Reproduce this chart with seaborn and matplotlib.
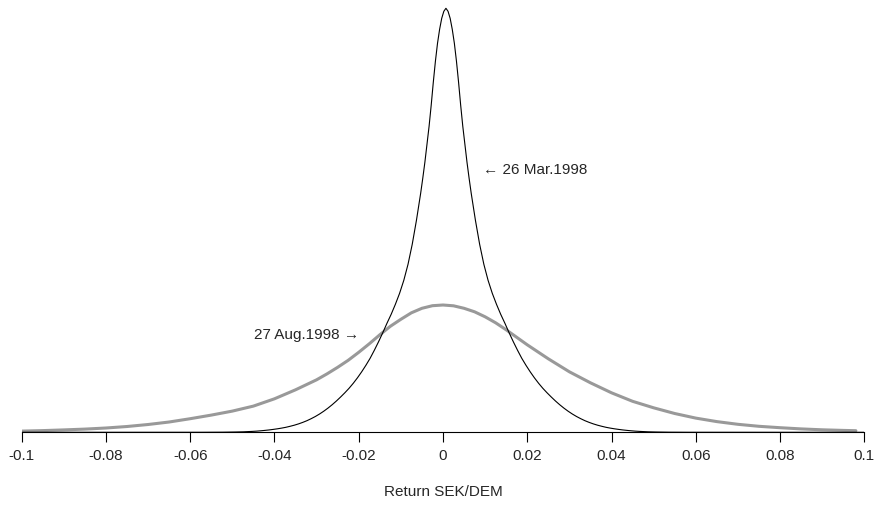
import pandas as pd
import matplotlib
matplotlib.use('Agg')
import matplotlib.pyplot as plt
import seaborn as sns

# Density curves; x in per-mille of return,
# heights in arbitrary units (the chart has no y axis)
mar_x_pm = [-100, -57.3, -52.3, -49.3, -47.3, -46.3, -45.3, -44.3, -43.3, -42.3,
            -41.3, -40.3, -39.3, -38.3, -37.3, -36.3, -35.3, -34.3, -33.3, -32.3,
            -31.3, -30.3, -29.3, -28.3, -27.3, -26.3, -25.3, -24.3, -23.3, -22.3,
            -21.3, -20.3, -19.3, -18.3, -17.3, -16.3, -15.3, -14.3, -13.3, -12.3,
            -11.3, -10.3, -9.3, -8.3, -7.3, -6.3, -5.3, -4.8, -4.3, -3.8,
            -3.3, -2.8, -2.3, -1.8, -1.3, -0.8, -0.3, 0.2, 0.7,
            1.2, 1.7, 2.2, 2.7, 3.2, 3.7, 4.2, 4.7, 5.2, 5.7, 6.2, 6.7,
            7.7, 8.7, 9.7, 10.7, 11.7, 12.7, 13.7, 14.7, 15.7, 16.7,
            17.7, 18.7, 19.7, 20.7, 21.7, 22.7, 23.7, 24.7, 25.7, 26.7,
            27.7, 28.7, 29.7, 30.7, 31.7, 32.7, 33.7, 34.7, 35.7, 36.7,
            37.7, 38.7, 39.7, 40.7, 41.7, 42.7, 43.7, 44.7, 45.7, 46.7,
            47.7, 48.7, 50.7, 53.7, 58.7, 100]
mar_y = [0, 0.03, 0.12, 0.3, 0.5, 0.7, 0.9, 1.15, 1.5, 1.9,
         2.35, 2.9, 3.5, 4.2, 5.0, 6.0, 7.1, 8.4, 9.9, 11.6,
         13.6, 15.8, 18.3, 21.1, 24.2, 27.6, 31.3, 35.3, 39.5, 44,
         49, 54.5, 60.5, 67, 74, 82, 90.5, 99.5, 109, 118,
         128, 139, 152, 168, 188, 212, 239, 254, 270, 288,
         306, 327, 350, 371, 389, 403, 414, 421, 424,
         421, 414, 403, 389, 371, 350, 327, 306, 288, 270, 254, 239,
         212, 188, 168, 152, 139, 128, 118, 109, 99.5, 90.5,
         82, 74, 67, 60.5, 54.5, 49, 44, 39.5, 35.3, 31.3,
         27.6, 24.2, 21.1, 18.3, 15.8, 13.6, 11.6, 9.9, 8.4, 7.1,
         6.0, 5.0, 4.2, 3.5, 2.9, 2.35, 1.9, 1.5, 1.15, 0.9,
         0.7, 0.5, 0.3, 0.12, 0.03, 0]

aug_x_pm = [-100, -95, -90, -85, -80, -75, -70, -65, -60, -55, -50, -45, -40, -35, -30,
            -27.5, -25, -22.5, -20, -17.5, -15, -12.5, -10, -7.5, -5, -2.5, 0,
            2.5, 5, 7.5, 10, 12.5, 15, 17.5, 20, 22.5, 25, 27.5, 30,
            35, 40, 45, 50, 55, 60, 65, 70, 75, 80, 85, 90, 95, 98]
aug_y = [1.2, 1.7, 2.4, 3.2, 4.3, 5.8, 7.8, 10.3, 13.6, 17.2, 21.2, 26.2, 33.5, 42.5, 52.5,
         58.5, 65, 72, 80, 88.5, 97.5, 106, 113, 119.5, 124, 126.6, 127.3,
         126.5, 124, 120.5, 115.5, 109.5, 102.5, 95, 87.5, 80.5, 73.5, 67, 60.5,
         49.5, 39.5, 31, 24.5, 18.8, 14.2, 10.7, 8, 6, 4.6, 3.4, 2.5, 1.9, 1.6]

x_ticks = [-0.1, -0.08, -0.06, -0.04, -0.02, 0, 0.02, 0.04, 0.06, 0.08, 0.1]
x_tick_labels = ['-0.1', '-0.08', '-0.06', '-0.04', '-0.02', '0',
                 '0.02', '0.04', '0.06', '0.08', '0.1']

sns.set_style('white')
plt.rcParams['font.family'] = ['Liberation Sans', 'DejaVu Sans']

df_mar = pd.DataFrame({'ret': [v / 1000 for v in mar_x_pm], 'dens': mar_y})
df_aug = pd.DataFrame({'ret': [v / 1000 for v in aug_x_pm], 'dens': aug_y})

fig = plt.figure(figsize=(8.74, 5.11), dpi=100)
ax = fig.add_axes([0.0248, 0.154, 0.9641, 0.846])

sns.lineplot(data=df_aug, x='ret', y='dens', color='#999999', linewidth=2.2, ax=ax)
sns.lineplot(data=df_mar, x='ret', y='dens', color='black', linewidth=0.8, ax=ax)

ax.set_xlim(-0.1, 0.1)
ax.set_ylim(0, 432.3)
ax.set_xticks(x_ticks)
ax.set_xticklabels(x_tick_labels, fontsize=11)
ax.set_yticks([])
ax.set_ylabel('')
ax.set_xlabel('Return SEK/DEM', fontsize=11, labelpad=15.5)
ax.tick_params(axis='x', direction='out', length=7.2, width=0.8, pad=5,
               bottom=True, color='black')
for side in ['left', 'top', 'right']:
    ax.spines[side].set_visible(False)
ax.spines['bottom'].set_linewidth(0.8)
ax.spines['bottom'].set_color('black')

ax.text(0.0094, 262, '\u2190 26 Mar.1998', fontsize=11, ha='left', va='center')
ax.text(-0.0199, 97, '27 Aug.1998 \u2192', fontsize=11, ha='right', va='center')

fig.savefig('out.png', dpi=100)
